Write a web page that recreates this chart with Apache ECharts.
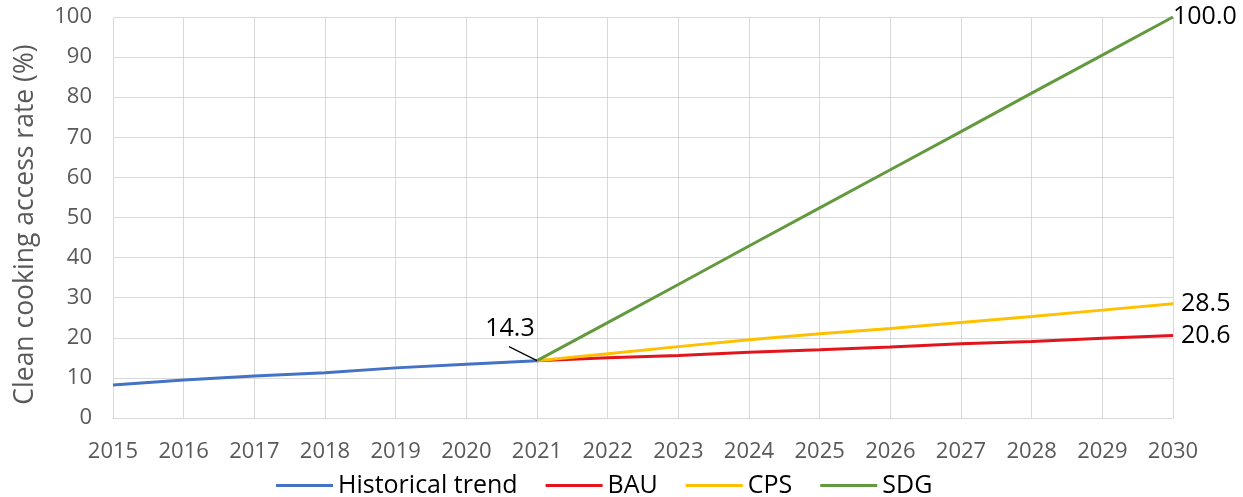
<!DOCTYPE html>
<html>
<head>
<meta charset="utf-8">
<script src="https://cdn.jsdelivr.net/npm/echarts@6/dist/echarts.min.js"></script>
<style>
  html, body { margin: 0; padding: 0; background: #fff; }
  #chart { width: 1243px; height: 497px; }
</style>
</head>
<body>
<div id="chart"></div>
<script>
// Years on the category axis
const years = ['2015', '2016', '2017', '2018', '2019', '2020', '2021', '2022',
  '2023', '2024', '2025', '2026', '2027', '2028', '2029', '2030'];

// Clean cooking access rate (%), observed up to 2021
const historical = [8.2, 9.5, 10.5, 11.3, 12.5, 13.4, 14.3];
// Scenario projections, 2021-2030
const bau = [14.3, 15.0, 15.6, 16.4, 17.0, 17.7, 18.5, 19.1, 19.9, 20.6];
const cps = [14.3, 16.0, 17.8, 19.5, 21.0, 22.3, 23.8, 25.3, 26.9, 28.5];
const sdg = [14.3, 23.8, 33.3, 42.9, 52.4, 61.9, 71.4, 81.0, 90.5, 100.0];

const FONT = '"Open Sans", sans-serif';
const firstScenarioIdx = years.indexOf('2021');
const lastHistIdx = historical.length - 1;

// pad a series so it starts at the right category
function placeFrom(start, values) {
  const out = new Array(years.length).fill(null);
  values.forEach((v, i) => { out[start + i] = v; });
  return out;
}

// only the last observed point carries a value label
const histData = historical.map((v, i) =>
  i === lastHistIdx ? { value: v, label: { show: true } } : v);

function endLabel(distance) {
  return {
    show: true,
    color: '#000',
    fontFamily: FONT,
    fontSize: 25,
    distance: distance,
    formatter: p => Number(p.value).toFixed(1)
  };
}

function scenario(name, color, values, labelDistance) {
  return {
    name: name,
    type: 'line',
    data: placeFrom(firstScenarioIdx, values),
    symbol: 'none',
    lineStyle: { color: color, width: 3 },
    itemStyle: { color: color },
    endLabel: endLabel(labelDistance),
    z: 3
  };
}

const chart = echarts.init(document.getElementById('chart'));
chart.setOption({
  animation: false,
  backgroundColor: '#fff',
  grid: { left: 113, right: 70, top: 17, bottom: 79 },
  legend: {
    left: 271,
    top: 468,
    icon: 'rect',
    itemWidth: 57,
    itemHeight: 3,
    itemGap: 28,
    textStyle: { fontFamily: FONT, fontSize: 25, color: '#000' },
    data: ['Historical trend', 'BAU', 'CPS', 'SDG']
  },
  xAxis: {
    type: 'category',
    data: years,
    boundaryGap: false,
    axisLine: { lineStyle: { color: '#d9d9d9' } },
    axisTick: { show: false },
    axisLabel: { color: '#595959', fontFamily: FONT, fontSize: 22, margin: 23 },
    splitLine: { show: true, lineStyle: { color: '#d9d9d9' } }
  },
  yAxis: {
    type: 'value',
    min: 0,
    max: 100,
    interval: 10,
    name: 'Clean cooking access rate (%)',
    nameLocation: 'middle',
    nameGap: 74,
    nameTextStyle: {
      color: '#595959', fontFamily: FONT, fontSize: 26.5,
      padding: [0, 14, 0, 0]
    },
    axisLine: { show: false },
    axisTick: { show: false },
    axisLabel: { color: '#595959', fontFamily: FONT, fontSize: 22, margin: 21 },
    splitLine: { lineStyle: { color: '#d9d9d9' } }
  },
  series: [
    {
      name: 'Historical trend',
      type: 'line',
      data: histData,
      symbol: 'circle',
      symbolSize: 0.01,
      showSymbol: true,
      lineStyle: { color: '#4472c4', width: 3 },
      itemStyle: { color: '#4472c4' },
      label: {
        show: false,
        position: 'top',
        color: '#000',
        fontFamily: FONT,
        fontSize: 25,
        formatter: p => Number(p.value).toFixed(1)
      },
      labelLayout: { dx: -27, dy: -14 },
      z: 4
    },
    scenario('BAU', '#e3151c', bau, 8),
    scenario('CPS', '#ffc000', cps, 8),
    scenario('SDG', '#649a3f', sdg, 0)
  ]
});

// leader line from the 2021 value label down to its point
const anchor = chart.convertToPixel({ xAxisIndex: 0, yAxisIndex: 0 },
  [years[lastHistIdx], historical[lastHistIdx]]);
chart.setOption({
  graphic: [{
    type: 'line',
    shape: { x1: anchor[0] - 28, y1: anchor[1] - 14, x2: anchor[0], y2: anchor[1] },
    style: { stroke: '#000', lineWidth: 1.2 },
    z: 10
  }]
});
</script>
</body>
</html>
